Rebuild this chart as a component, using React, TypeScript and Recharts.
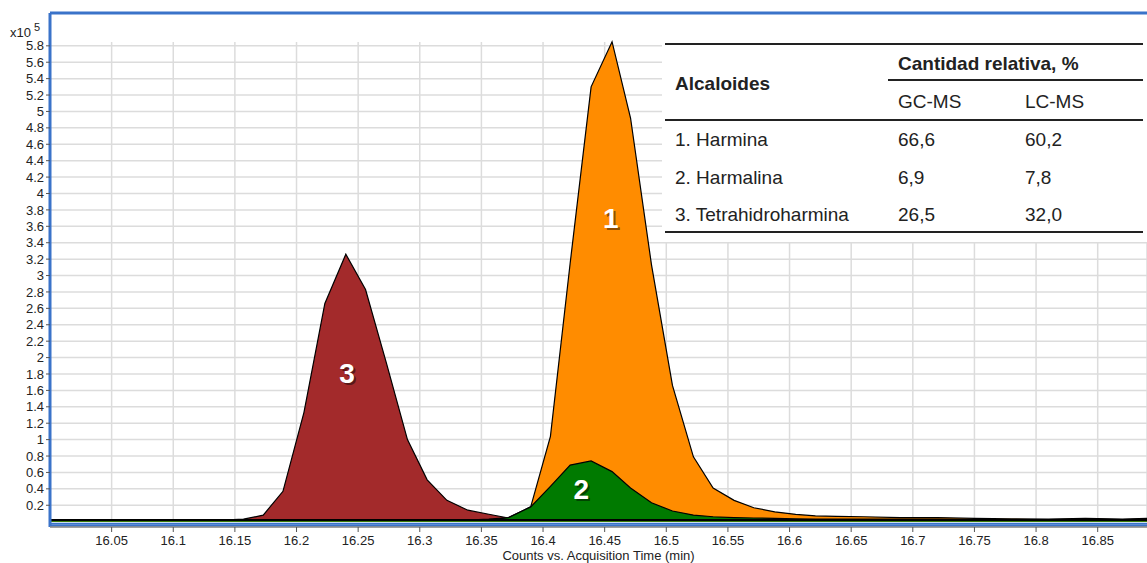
import { AreaChart, Area, XAxis, YAxis, CartesianGrid, ReferenceLine, ReferenceDot } from "recharts";

// retention time (min) and abundance (x10^5 counts)
const times = [
  16.0, 16.02, 16.04, 16.06, 16.08, 16.1, 16.12, 16.14, 16.157,
  16.173, 16.189, 16.206, 16.223, 16.24, 16.256, 16.273, 16.29, 16.306, 16.322, 16.339, 16.356,
  16.372, 16.39, 16.406, 16.422, 16.439, 16.456, 16.471, 16.488, 16.505, 16.522, 16.538, 16.555,
  16.571, 16.588, 16.605, 16.621, 16.638, 16.66, 16.69, 16.72, 16.75, 16.78, 16.81, 16.84, 16.87, 16.89,
];
const harmina = [
  0.02, 0.02, 0.02, 0.025, 0.02, 0.02, 0.02, 0.02, 0.02,
  0.02, 0.02, 0.02, 0.02, 0.02, 0.02, 0.02, 0.02, 0.02, 0.02, 0.02, 0.03,
  0.05, 0.18, 1.04, 3.15, 5.3, 5.85, 4.92, 3.13, 1.66, 0.79, 0.41, 0.26,
  0.17, 0.12, 0.09, 0.07, 0.065, 0.06, 0.05, 0.05, 0.04, 0.035, 0.03, 0.04, 0.03, 0.04,
];
const harmalina = [
  0.02, 0.02, 0.02, 0.02, 0.025, 0.02, 0.02, 0.02, 0.02,
  0.02, 0.02, 0.02, 0.02, 0.02, 0.02, 0.02, 0.02, 0.02, 0.02, 0.02, 0.02,
  0.05, 0.18, 0.43, 0.69, 0.74, 0.61, 0.41, 0.23, 0.13, 0.08, 0.06, 0.05,
  0.045, 0.04, 0.035, 0.03, 0.03, 0.03, 0.03, 0.03, 0.025, 0.025, 0.025, 0.03, 0.025, 0.03,
];
const thh = [
  0.02, 0.02, 0.02, 0.02, 0.02, 0.02, 0.02, 0.02, 0.03,
  0.08, 0.37, 1.33, 2.66, 3.26, 2.83, 1.93, 1.0, 0.51, 0.26, 0.14, 0.09,
  0.045, 0.02, 0.02, 0.02, 0.02, 0.02, 0.02, 0.02, 0.02, 0.02, 0.02, 0.02,
  0.02, 0.02, 0.02, 0.02, 0.02, 0.02, 0.02, 0.02, 0.02, 0.02, 0.02, 0.02, 0.02, 0.02,
];

const xTicks = [16.05, 16.1, 16.15, 16.2, 16.25, 16.3, 16.35, 16.4, 16.45, 16.5, 16.55, 16.6, 16.65, 16.7, 16.75, 16.8, 16.85];
const yTicks = [
  0.2, 0.4, 0.6, 0.8, 1, 1.2, 1.4, 1.6, 1.8, 2, 2.2, 2.4, 2.6, 2.8, 3, 3.2, 3.4, 3.6, 3.8, 4,
  4.2, 4.4, 4.6, 4.8, 5, 5.2, 5.4, 5.6, 5.8,
];

const peakLabels = [
  { t: 16.455, v: 3.7, text: "1" },
  { t: 16.431, v: 0.39, text: "2" },
  { t: 16.241, v: 1.8, text: "3" },
];

const tableHeader = ["Alcaloides", "Cantidad relativa, %", "GC-MS", "LC-MS"];
const tableRows = [
  ["1. Harmina", "66,6", "60,2"],
  ["2. Harmalina", "6,9", "7,8"],
  ["3. Tetrahidroharmina", "26,5", "32,0"],
];

const data = times.map((t, i) => ({ t, harmina: harmina[i], harmalina: harmalina[i], thh: thh[i] }));

const FONT = "'Liberation Sans', Arial, sans-serif";
const BLUE = "#3a73c9";

function PeakNumber(props: any) {
  const { cx, cy, text } = props;
  return (
    <g>
      <text x={cx + 2} y={cy + 2} textAnchor="middle" dominantBaseline="central" fontSize={28} fontWeight="bold" fontFamily={FONT} fill="rgba(0,0,0,0.45)">
        {text}
      </text>
      <text x={cx} y={cy} textAnchor="middle" dominantBaseline="central" fontSize={28} fontWeight="bold" fontFamily={FONT} fill="#fff">
        {text}
      </text>
    </g>
  );
}

export default function App() {
  const cell = { fontSize: 19, color: "#222", position: "absolute" as const, whiteSpace: "nowrap" as const, lineHeight: "22px" };
  return (
    <div style={{ position: "absolute", left: 0, top: 0, width: 1147, height: 563, background: "#fff", fontFamily: FONT, overflow: "hidden" }}>
      <AreaChart width={1147} height={563} data={data} margin={{ top: 13, right: 0, left: 0, bottom: 0 }}>
        <CartesianGrid y={42} height={480} stroke="#dcdcdc" strokeWidth={1.5} />
        <XAxis
          dataKey="t"
          type="number"
          domain={[16.0, 16.89]}
          allowDataOverflow
          ticks={xTicks}
          interval={0}
          height={36}
          tickSize={5}
          tickMargin={4}
          axisLine={{ stroke: "#888", strokeWidth: 1.5 }}
          tickLine={{ stroke: "#555" }}
          tick={{ fontSize: 13, fill: "#222", fontFamily: FONT }}
          label={{ value: "Counts vs. Acquisition Time (min)", position: "insideBottom", offset: 3, fontSize: 13, fill: "#222", fontFamily: FONT }}
        />
        <YAxis
          type="number"
          domain={[-0.065, 6.2]}
          allowDataOverflow
          ticks={yTicks}
          interval={0}
          width={50}
          tickSize={4}
          axisLine={false}
          tickLine={{ stroke: "#555" }}
          tick={{ fontSize: 13, fill: "#222", fontFamily: FONT }}
          tickFormatter={(v) => String(v)}
        />
        <Area type="linear" dataKey="thh" stroke="#000" strokeWidth={1.2} fill="#a32a2b" fillOpacity={1} isAnimationActive={false} />
        <Area type="linear" dataKey="harmina" stroke="#000" strokeWidth={1.2} fill="#ff8c00" fillOpacity={1} isAnimationActive={false} />
        <Area type="linear" dataKey="harmalina" stroke="#000" strokeWidth={1.2} fill="#007a00" fillOpacity={1} isAnimationActive={false} />
        <ReferenceLine y={0.02} stroke="#000" strokeWidth={2} />
        <ReferenceLine y={-0.025} stroke={BLUE} strokeWidth={2} />
        <ReferenceLine y={-0.05} stroke={BLUE} strokeWidth={2} />
        <ReferenceLine y={6.2} stroke={BLUE} strokeWidth={3} />
        <ReferenceLine x={16.0} stroke={BLUE} strokeWidth={3} />
        {peakLabels.map((p) => (
          <ReferenceDot key={p.text} x={p.t} y={p.v} r={0} shape={(props: any) => <PeakNumber {...props} text={p.text} />} />
        ))}
      </AreaChart>

      <div style={{ position: "absolute", left: 10, top: 22, fontSize: 13, color: "#222" }}>
        x10<sup style={{ fontSize: 11, marginLeft: 3, position: "relative", top: -1 }}>5</sup>
      </div>

      <div style={{ position: "absolute", left: 662, top: 33, width: 485, height: 209, background: "#fff" }}>
        <div style={{ position: "absolute", left: 3, top: 10, width: 478, borderTop: "2px solid #222" }} />
        <div style={{ position: "absolute", left: 226, top: 46, width: 255, borderTop: "2px solid #222" }} />
        <div style={{ position: "absolute", left: 3, top: 86, width: 478, borderTop: "2px solid #222" }} />
        <div style={{ position: "absolute", left: 3, top: 198, width: 478, borderTop: "2px solid #222" }} />
        <div style={{ ...cell, left: 13, top: 40, fontWeight: "bold" }}>{tableHeader[0]}</div>
        <div style={{ ...cell, left: 236, top: 20, fontWeight: "bold" }}>{tableHeader[1]}</div>
        <div style={{ ...cell, left: 236, top: 58 }}>{tableHeader[2]}</div>
        <div style={{ ...cell, left: 363, top: 58 }}>{tableHeader[3]}</div>
        {tableRows.map((row, i) => (
          <div key={row[0]}>
            <div style={{ ...cell, left: 13, top: 96 + i * 37.5 }}>{row[0]}</div>
            <div style={{ ...cell, left: 236, top: 96 + i * 37.5 }}>{row[1]}</div>
            <div style={{ ...cell, left: 363, top: 96 + i * 37.5 }}>{row[2]}</div>
          </div>
        ))}
      </div>
    </div>
  );
}
